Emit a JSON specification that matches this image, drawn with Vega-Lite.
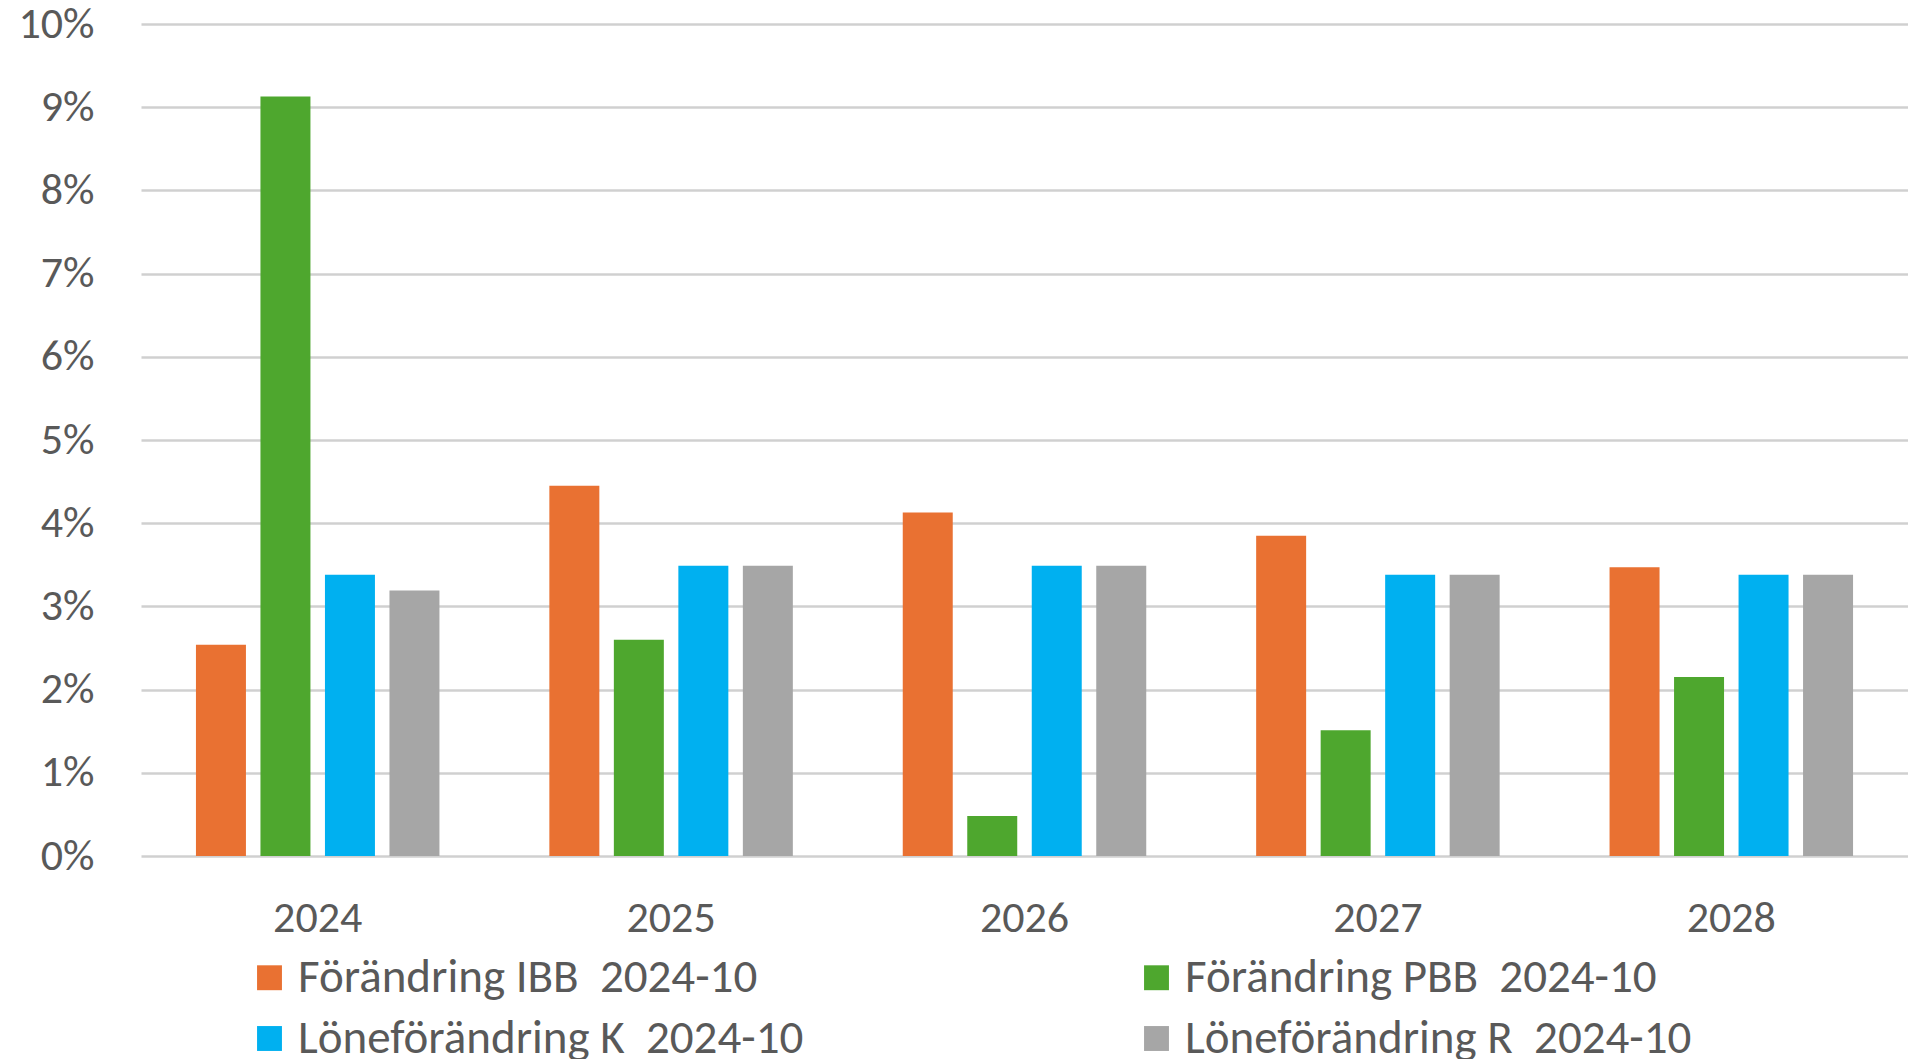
{
  "$schema": "https://vega.github.io/schema/vega-lite/v6.json",
  "width": 1767,
  "height": 832,
  "autosize": {"type": "none"},
  "padding": {"left": 141, "top": 24, "right": 0, "bottom": 203},
  "background": "white",
  "config": {
    "view": {"stroke": null},
    "font": "Carlito, Lato",
    "axis": {"labelFont": "Carlito, Lato", "labelColor": "#595959"},
    "legend": {"labelFont": "Carlito, Lato", "labelColor": "#595959"}
  },
  "data": {
    "values": [
      {"year": "2024", "series": "Förändring IBB\u00a0 2024-10", "value": 0.0254},
      {"year": "2024", "series": "Förändring PBB\u00a0 2024-10", "value": 0.0913},
      {"year": "2024", "series": "Löneförändring K\u00a0 2024-10", "value": 0.0338},
      {"year": "2024", "series": "Löneförändring R\u00a0 2024-10", "value": 0.0319},
      {"year": "2025", "series": "Förändring IBB\u00a0 2024-10", "value": 0.0445},
      {"year": "2025", "series": "Förändring PBB\u00a0 2024-10", "value": 0.0260},
      {"year": "2025", "series": "Löneförändring K\u00a0 2024-10", "value": 0.0349},
      {"year": "2025", "series": "Löneförändring R\u00a0 2024-10", "value": 0.0349},
      {"year": "2026", "series": "Förändring IBB\u00a0 2024-10", "value": 0.0413},
      {"year": "2026", "series": "Förändring PBB\u00a0 2024-10", "value": 0.0048},
      {"year": "2026", "series": "Löneförändring K\u00a0 2024-10", "value": 0.0349},
      {"year": "2026", "series": "Löneförändring R\u00a0 2024-10", "value": 0.0349},
      {"year": "2027", "series": "Förändring IBB\u00a0 2024-10", "value": 0.0385},
      {"year": "2027", "series": "Förändring PBB\u00a0 2024-10", "value": 0.0151},
      {"year": "2027", "series": "Löneförändring K\u00a0 2024-10", "value": 0.0338},
      {"year": "2027", "series": "Löneförändring R\u00a0 2024-10", "value": 0.0338},
      {"year": "2028", "series": "Förändring IBB\u00a0 2024-10", "value": 0.0347},
      {"year": "2028", "series": "Förändring PBB\u00a0 2024-10", "value": 0.0215},
      {"year": "2028", "series": "Löneförändring K\u00a0 2024-10", "value": 0.0338},
      {"year": "2028", "series": "Löneförändring R\u00a0 2024-10", "value": 0.0338}
    ]
  },
  "mark": {"type": "bar"},
  "encoding": {
    "x": {
      "field": "year",
      "type": "nominal",
      "title": null,
      "scale": {"paddingInner": 0.311, "paddingOuter": 0.1555},
      "axis": {
        "labelAngle": 0,
        "labelFontSize": 44,
        "labelPadding": 40,
        "ticks": false,
        "tickSize": 0,
        "domain": false,
        "grid": false
      }
    },
    "xOffset": {
      "field": "series",
      "type": "nominal",
      "sort": ["Förändring IBB\u00a0 2024-10", "Förändring PBB\u00a0 2024-10", "Löneförändring K\u00a0 2024-10", "Löneförändring R\u00a0 2024-10"],
      "scale": {"paddingInner": 0.225, "paddingOuter": 0}
    },
    "y": {
      "field": "value",
      "type": "quantitative",
      "title": null,
      "scale": {"domain": [0, 0.1], "nice": false},
      "axis": {
        "format": ".0%",
        "values": [0, 0.01, 0.02, 0.03, 0.04, 0.05, 0.06, 0.07, 0.08, 0.09, 0.1],
        "labelFontSize": 44,
        "labelPadding": 47,
        "ticks": false,
        "tickSize": 0,
        "domain": false,
        "grid": true,
        "gridColor": "#d0d0d0",
        "gridWidth": 2.5
      }
    },
    "color": {
      "field": "series",
      "type": "nominal",
      "scale": {
        "domain": ["Förändring IBB\u00a0 2024-10", "Förändring PBB\u00a0 2024-10", "Löneförändring K\u00a0 2024-10", "Löneförändring R\u00a0 2024-10"],
        "range": ["#E97132", "#4EA72E", "#00B0F0", "#A6A6A6"]
      },
      "legend": {
        "title": null,
        "orient": "none",
        "legendX": 105,
        "legendY": 930,
        "direction": "horizontal",
        "columns": 2,
        "columnPadding": 329,
        "rowPadding": 13,
        "padding": 0,
        "symbolType": "square",
        "symbolSize": 620,
        "symbolStrokeWidth": 0,
        "symbolOpacity": 1,
        "labelFontSize": 47,
        "labelOffset": 5,
        "labelLimit": 1000
      }
    }
  }
}
